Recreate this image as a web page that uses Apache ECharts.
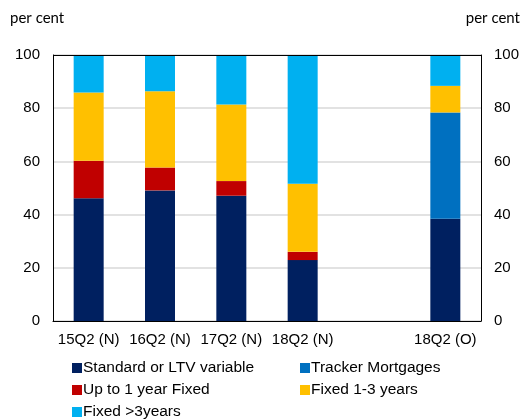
<!DOCTYPE html>
<html>
<head>
<meta charset="utf-8">
<script src="https://cdn.jsdelivr.net/npm/echarts@6/dist/echarts.min.js"></script>
<style>
html,body{margin:0;padding:0;background:#fff;}
#chart{width:523px;height:419px;}
</style>
</head>
<body>
<div id="chart"></div>
<script>
// categories (empty slot keeps the gap before 18Q2 (O))
const categories = ['15Q2 (N)', '16Q2 (N)', '17Q2 (N)', '18Q2 (N)', '', '18Q2 (O)'];
const yTicks = [0, 20, 40, 60, 80, 100];

// per cent shares
const standardLtv = [46.1, 49.1, 47.1, 22.9, null, 38.4];
const tracker     = [0,    0,    0,    0,    null, 40.0];
const upTo1Fixed  = [14.1, 8.6,  5.5,  3.1,  null, 0];
const fixed1to3   = [25.7, 28.7, 28.8, 25.6, null, 10.0];
const fixedOver3  = [14.1, 13.6, 18.6, 48.4, null, 11.6];

const seriesNames = ['Standard or LTV variable', 'Tracker Mortgages', 'Up to 1 year Fixed', 'Fixed 1-3 years', 'Fixed >3years'];
const seriesData = [standardLtv, tracker, upTo1Fixed, fixed1to3, fixedOver3];
const colors = ['#002060', '#0070C0', '#C00000', '#FFC000', '#00B0F0'];

const chart = echarts.init(document.getElementById('chart'), null, {renderer: 'canvas'});
const font = 'Liberation Sans, Arial, sans-serif';

// legend laid out as two columns
const legendPos = [
    {left: 67, top: 355}, {left: 295, top: 355},
    {left: 67, top: 377}, {left: 295, top: 377},
    {left: 67, top: 399}
];

const yAxisCommon = {
    type: 'value', min: 0, max: 100, interval: 20,
    axisLine: {show: true, lineStyle: {color: '#000', width: 1}},
    axisTick: {show: false},
    splitLine: {show: false},
    axisLabel: {color: '#000', fontSize: 15, fontFamily: font, margin: 13}
};

const option = {
    backgroundColor: '#fff',
    color: colors,
    animation: false,
    grid: {left: 53, right: 42, top: 55, bottom: 98, containLabel: false},
    legend: legendPos.map((p, i) => ({
        data: [seriesNames[i]],
        left: p.left, top: p.top,
        icon: 'rect', itemWidth: 10, itemHeight: 10, itemGap: 4,
        textStyle: {color: '#000', fontSize: 15.5, fontFamily: font, padding: [0, 0, 0, -4]}
    })),
    xAxis: {
        type: 'category', data: categories,
        axisLine: {show: true, lineStyle: {color: '#000', width: 1}},
        axisTick: {show: false},
        axisLabel: {color: '#000', fontSize: 15, fontFamily: font, margin: 11, interval: 0}
    },
    yAxis: [
        Object.assign({}, yAxisCommon, {position: 'left',
            splitLine: {show: true, lineStyle: {color: '#d9d9d9', width: 1.5}}}),
        Object.assign({}, yAxisCommon, {position: 'right'})
    ],
    graphic: [
        {type: 'line', shape: {x1: 53, y1: 55.5, x2: 481, y2: 55.5},
            style: {stroke: '#000', lineWidth: 1}, z: 10},
        {type: 'text', left: 10, top: 11,
            style: {text: 'per cent', fill: '#000', font: '15px Lato, "Open Sans", sans-serif'}},
        {type: 'text', right: 3, top: 11,
            style: {text: 'per cent', fill: '#000', font: '15px Lato, "Open Sans", sans-serif'}}
    ],
    series: seriesNames.map((name, i) => ({
        name, type: 'bar', stack: 'total', barWidth: 30,
        data: seriesData[i],
        itemStyle: {color: colors[i]},
        emphasis: {disabled: true}
    }))
};
chart.setOption(option);
window.addEventListener('resize', () => chart.resize());
</script>
</body>
</html>
